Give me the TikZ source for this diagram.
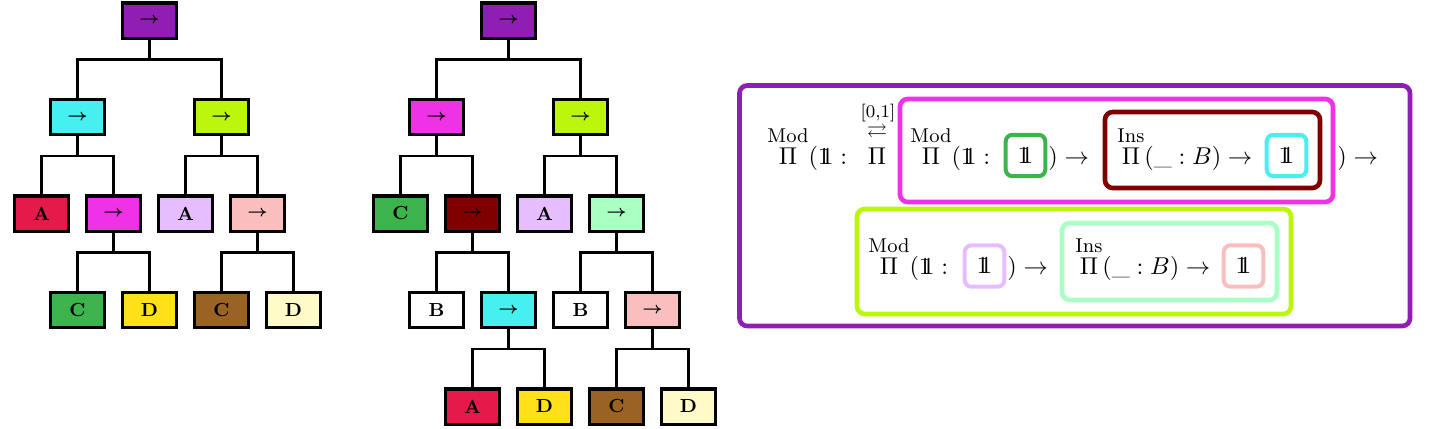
\documentclass[tikz,border=0pt]{standalone}
\usepackage{amsmath}
\usepackage{amssymb}
\usepackage{xcolor}
\usepackage{tikz}
\definecolor{cpurple}{HTML}{911EB4}
\definecolor{ccyan}{HTML}{46F0F0}
\definecolor{clime}{HTML}{BCF60C}
\definecolor{cred}{HTML}{E6194B}
\definecolor{cmagenta}{HTML}{F032E6}
\definecolor{clavender}{HTML}{E6BEFF}
\definecolor{cpink}{HTML}{FABEBE}
\definecolor{cgreen}{HTML}{3CB44B}
\definecolor{cyellow}{HTML}{FFE119}
\definecolor{cbrown}{HTML}{9A6324}
\definecolor{cbeige}{HTML}{FFFAC8}
\definecolor{cmaroon}{HTML}{800000}
\definecolor{cmint}{HTML}{AAFFC3}
\newcommand{\one}{\mathrm{1\mkern-6.5mu1}}
\newcommand{\arr}{{\scriptsize\boldmath$\rightarrow$}}
\newcommand{\opover}[1]{\overset{\text{\fontsize{9}{9}\selectfont #1}}{\Pi}}

\begin{document}
\begin{tikzpicture}[x=0.45pt, y=-0.45pt,
	tbox/.style={draw, line width=1.4pt, minimum width=24.3pt, minimum height=15.8pt, inner sep=0pt, font=\fontsize{8.5}{10}\selectfont\bfseries},
	edge/.style={line width=1.1pt},
	frame/.style={line width=2.1pt, rounded corners=3.5pt},
	unit/.style={draw, line width=1.8pt, rounded corners=3pt, minimum width=17.8pt, minimum height=18.6pt, inner sep=0pt, font=\fontsize{11}{13}\selectfont},
	seg/.style={anchor=base west, inner sep=0pt, font=\fontsize{11}{13}\selectfont}]
	\useasboundingbox (0,0) rectangle (1432,428);
	
	% first tree
	\node[tbox, fill=cpurple] (t1) at (149.5,20.5) {\arr};
	\node[tbox, fill=ccyan] (t2) at (77.5,117) {\arr};
	\node[tbox, fill=clime] (t3) at (221.5,117) {\arr};
	\node[tbox, fill=cred] (t4) at (41.5,213.5) {A};
	\node[tbox, fill=cmagenta] (t5) at (113.5,213.5) {\arr};
	\node[tbox, fill=clavender] (t6) at (185.5,213.5) {A};
	\node[tbox, fill=cpink] (t7) at (257.5,213.5) {\arr};
	\node[tbox, fill=cgreen] (t8) at (77.5,310) {C};
	\node[tbox, fill=cyellow] (t9) at (149.5,310) {D};
	\node[tbox, fill=cbrown] (t10) at (221.5,310) {C};
	\node[tbox, fill=cbeige] (t11) at (293.5,310) {D};
	
	% second tree
	\node[tbox, fill=cpurple] (u1) at (508.5,20.5) {\arr};
	\node[tbox, fill=cmagenta] (u2) at (436.5,117) {\arr};
	\node[tbox, fill=clime] (u3) at (580.5,117) {\arr};
	\node[tbox, fill=cgreen] (u4) at (400.5,213.5) {C};
	\node[tbox, fill=cmaroon] (u5) at (472.5,213.5) {\arr};
	\node[tbox, fill=clavender] (u6) at (544.5,213.5) {A};
	\node[tbox, fill=cmint] (u7) at (616.5,213.5) {\arr};
	\node[tbox, fill=white] (u8) at (436.5,310) {B};
	\node[tbox, fill=ccyan] (u9) at (508.5,310) {\arr};
	\node[tbox, fill=white] (u10) at (580.5,310) {B};
	\node[tbox, fill=cpink] (u11) at (652.5,310) {\arr};
	\node[tbox, fill=cred] (u12) at (472.5,406.5) {A};
	\node[tbox, fill=cyellow] (u13) at (544.5,406.5) {D};
	\node[tbox, fill=cbrown] (u14) at (616.5,406.5) {C};
	\node[tbox, fill=cbeige] (u15) at (688.5,406.5) {D};
	
	\foreach \p/\l/\r in {t1/t2/t3, t2/t4/t5, t3/t6/t7, t5/t8/t9, t7/t10/t11,
		u1/u2/u3, u2/u4/u5, u3/u6/u7, u5/u8/u9, u7/u10/u11, u9/u12/u13, u11/u14/u15}{
		\draw[edge] (\p.south) -- ++(0,20) coordinate (bar);
		\draw[edge] (\l.north) |- (bar) -| (\r.north);
	}
	
	% the type
	\draw[frame, cpurple] (739.5,85.5) rectangle (1410,326);
	\draw[frame, cmagenta] (900,99) rectangle (1333,202);
	\draw[frame, cmaroon] (1105,112) rectangle (1320,188);
	\draw[frame, clime] (857,209) rectangle (1291,314);
	\draw[frame, cmint] (1062,223) rectangle (1277,300);
	
	\node[seg] (f1) at (767,164) {$\opover{Mod}(\one :$};
	\node[seg, anchor=base] (f2) at (877,164) {$\Pi$};
	\node[inner sep=0pt, font=\fontsize{9}{9}\selectfont] (f3) at (877,133) {$\rightleftarrows$};
	\node[inner sep=0pt, font=\fontsize{8}{8}\selectfont] (f4) at (878,113.5) {[0,1]};
	\node[seg] (f5) at (910,164) {$\opover{Mod}(\one :$};
	\node[unit, cgreen] (g1) at (1025.5,155.5) {\textcolor{black}{$\one$}};
	\node[seg] (f6) at (1048,164) {$)\rightarrow$};
	\node[seg] (f7) at (1117,164) {$\opover{Ins}(\_ : B)\rightarrow$};
	\node[unit, ccyan] (g2) at (1286.5,155.5) {\textcolor{black}{$\one$}};
	\node[seg] (f8) at (1337,164) {$)\rightarrow$};
	
	\node[seg] (f9) at (868,274) {$\opover{Mod}(\one :$};
	\node[unit, clavender] (g3) at (984.5,266) {\textcolor{black}{$\one$}};
	\node[seg] (f10) at (1007,274) {$)\rightarrow$};
	\node[seg] (f11) at (1075,274) {$\opover{Ins}(\_ : B)\rightarrow$};
	\node[unit, cpink] (g4) at (1243.5,266) {\textcolor{black}{$\one$}};
	
\end{tikzpicture}
\end{document}
